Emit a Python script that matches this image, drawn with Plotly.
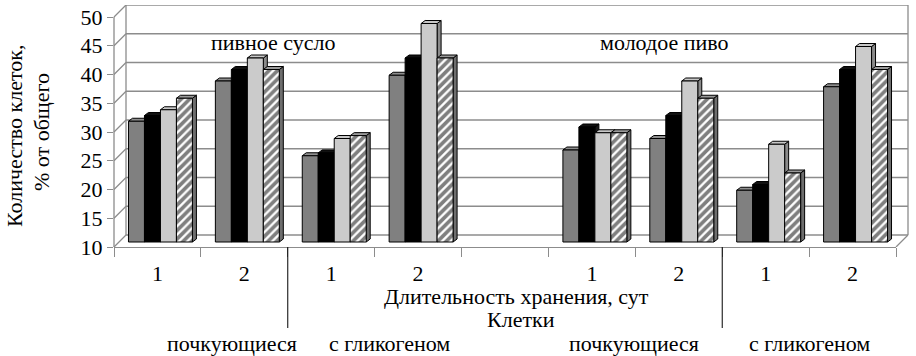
import plotly.graph_objects as go

# ---------------- data ----------------
slots = [0, 1, 2, 3, 5, 6, 7, 8]          # category slots (slot 4 is the empty gap)
day_labels = ["1", "2", "1", "2", "1", "2", "1", "2"]
group_labels = ["почкующиеся", "с гликогеном", "почкующиеся", "с гликогеном"]
medium_labels = ["пивное сусло", "молодое пиво"]
y_ticks = [10, 15, 20, 25, 30, 35, 40, 45, 50]

s_gray = [31, 38, 25, 39, 26, 28, 19, 37]
s_black = [32, 40, 25.5, 42, 30, 32, 20, 40]
s_dots = [33, 42, 28, 48, 29, 38, 27, 44]
s_hatch = [35, 40, 28.5, 42, 29, 35, 22, 40]
series = [s_gray, s_black, s_dots, s_hatch]
BASE = 10

# ---------------- geometry / style ----------------
W, H = 916, 356
L, R, T, B = 114, 20, 5, 109
PW = W - L - R
PH = H - T - B
XR = [-0.5, 8.5]
PPX = PW / (XR[1] - XR[0])          # px per category slot
PPY = 5.75                          # px per value unit
Y_BAR = [BASE - 5 / PPY, BASE + (PH - 5) / PPY]   # bar plane (5px above front floor)
Y_FRONT = [BASE, BASE + PH / PPY]                 # front plane (tick labels)
DEPTH_X, DEPTH_Y = 12, 12            # back wall offset in px
FACE_DX, FACE_DY = 4 / PPX, 3 / PPY  # 3D face offsets
BW = 0.184
SHIFT = 3 / PPX
FONT = "Liberation Serif, Times New Roman, serif"
FS = 22

front_fill = ["#808080", "#000000", "#d0d0d0", "#ffffff"]
top_fill = ["#8e8e8e", "#111111", "#c8c8c8", "#9a9a9a"]
side_fill = ["#5e5e5e", "#1a1a1a", "#8a8a8a", "#6e6e6e"]
patterns = [
    dict(shape=""),
    dict(shape=""),
    dict(shape=".", fgcolor="#6e6e6e", bgcolor="#e4e4e4", size=2, solidity=0.5),
    dict(shape="/", fgcolor="#000000", bgcolor="#ffffff", size=6, solidity=0.62),
]

fig = go.Figure()

# 3D faces (drawn on the base subplot, below the bars)
for k, vals in enumerate(series):
    off = -2 * BW + SHIFT + k * BW
    sx, sy, tx, ty = [], [], [], []
    for s, v in zip(slots, vals):
        xl = s + off
        xr = xl + BW
        sx += [xr, xr, xr + FACE_DX, xr + FACE_DX, xr, None]
        sy += [BASE, v, v + FACE_DY, BASE + FACE_DY, BASE, None]
        tx += [xl, xr, xr + FACE_DX, xl + FACE_DX, xl, None]
        ty += [v, v, v + FACE_DY, v + FACE_DY, v, None]
    fig.add_trace(go.Scatter(x=sx, y=sy, mode="lines", fill="toself",
                             fillcolor=side_fill[k], line=dict(color="black", width=1),
                             hoverinfo="skip", xaxis="x", yaxis="y"))
    fig.add_trace(go.Scatter(x=tx, y=ty, mode="lines", fill="toself",
                             fillcolor=top_fill[k], line=dict(color="black", width=1),
                             hoverinfo="skip", xaxis="x", yaxis="y"))

# front faces of bars (overlay subplot, on top)
for k, vals in enumerate(series):
    off = -2 * BW + SHIFT + k * BW
    fig.add_trace(go.Bar(
        x=slots, y=[v - BASE for v in vals], base=BASE,
        offset=off, width=BW,
        marker=dict(color=front_fill[k], pattern=patterns[k],
                    line=dict(color="black", width=1)),
        xaxis="x", yaxis="y2", hoverinfo="skip"))

# ---------------- walls & grid ----------------
grid_col = "#8c8c8c"
bx0 = DEPTH_X / PW
bx1 = (W - 8 - L) / PW
dyb = DEPTH_Y / PPY
shapes = []
for v in y_ticks:
    shapes.append(dict(type="line", xref="paper", yref="y3", x0=bx0, x1=bx1,
                       y0=v + dyb, y1=v + dyb, line=dict(color=grid_col, width=1.3),
                       layer="below"))
    shapes.append(dict(type="line", xref="paper", yref="y3", x0=0, x1=bx0,
                       y0=v, y1=v + dyb, line=dict(color=grid_col, width=1.3),
                       layer="below"))
for xx in (bx0, bx1):
    shapes.append(dict(type="line", xref="paper", yref="y3", x0=xx, x1=xx,
                       y0=y_ticks[0] + dyb, y1=y_ticks[-1] + dyb,
                       line=dict(color=grid_col, width=1.3), layer="below"))
shapes.append(dict(type="line", xref="paper", yref="y3", x0=1, x1=bx1,
                   y0=y_ticks[0], y1=y_ticks[0] + dyb,
                   line=dict(color=grid_col, width=1.3), layer="below"))
shapes.append(dict(type="line", xref="paper", yref="y3", x0=0, x1=0,
                   y0=y_ticks[0], y1=y_ticks[-1],
                   line=dict(color=grid_col, width=1.3), layer="below"))
# group dividers
for xd in (1.5, 6.5):
    shapes.append(dict(type="line", xref="x", yref="paper", x0=xd, x1=xd,
                       y0=0, y1=-(328 - 247) / PH, line=dict(color="black", width=1)))

def px_to_x(px):
    return (px - L) / PPX + XR[0]

def py_to_paper(py):
    return (H - B - py) / PH

def px_to_paper(px):
    return (px - L) / PW

ann_common = dict(showarrow=False, xanchor="center", yanchor="middle")
annotations = [
    dict(text="Длительность хранения, сут", xref="paper", yref="paper",
         x=px_to_paper(516), y=py_to_paper(296), **ann_common),
    dict(text="Клетки", xref="paper", yref="paper",
         x=px_to_paper(521), y=py_to_paper(319), **ann_common),
    dict(text="Количество клеток,", xref="paper", yref="paper",
         x=px_to_paper(14), y=py_to_paper(136), textangle=-90, **ann_common),
    dict(text="% от общего", xref="paper", yref="paper",
         x=px_to_paper(41), y=py_to_paper(132), textangle=-90, **ann_common),
]
for lab, px in zip(group_labels, [232, 389, 634, 809]):
    annotations.append(dict(text=lab, xref="x", yref="paper", x=px_to_x(px),
                            y=py_to_paper(343), **ann_common))
for lab, px in zip(medium_labels, [273, 664]):
    annotations.append(dict(text=lab, xref="x", yref="paper", x=px_to_x(px),
                            y=py_to_paper(42), **ann_common))

fig.update_layout(
    width=W, height=H,
    margin=dict(l=L, r=R, t=T, b=B, autoexpand=False),
    paper_bgcolor="white", plot_bgcolor="rgba(0,0,0,0)",
    showlegend=False, barmode="overlay",
    font=dict(family=FONT, size=FS, color="black"),
    xaxis=dict(range=XR, tickvals=slots, ticktext=day_labels, ticks="",
               showline=True, linecolor=grid_col, linewidth=1.3,
               showgrid=False, zeroline=False, ticklabelstandoff=6,
               automargin=False,
               minor=dict(tick0=-0.5, dtick=1, ticks="outside", ticklen=9,
                          tickcolor=grid_col, tickwidth=1.3, showgrid=False),
               fixedrange=True),
    yaxis=dict(range=Y_BAR, visible=False, fixedrange=True),
    yaxis2=dict(range=Y_BAR, overlaying="y", visible=False, fixedrange=True),
    yaxis3=dict(range=Y_FRONT, overlaying="y", side="left", tickvals=y_ticks,
                ticks="outside", ticklen=6, tickcolor=grid_col, tickwidth=1.3,
                showline=False, showgrid=False, zeroline=False, automargin=False,
                tickfont=dict(size=FS), fixedrange=True),
    shapes=shapes, annotations=annotations,
)

fig.write_html("out.html", config={"displayModeBar": False},
               post_script="document.body.style.margin='0';document.body.style.padding='0';")
